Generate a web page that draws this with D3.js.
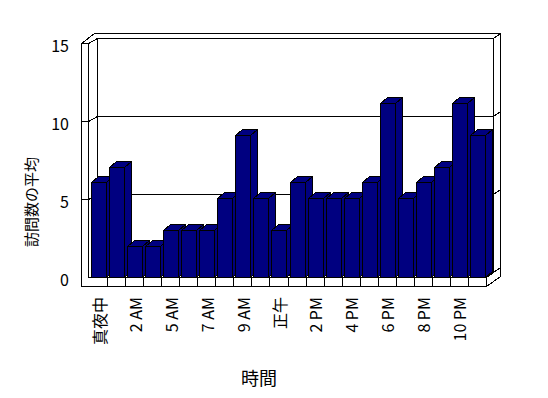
<!DOCTYPE html>
<html>
<head>
<meta charset="utf-8">
<script src="https://cdn.jsdelivr.net/npm/d3@7"></script>
<style>
  html, body { margin: 0; padding: 0; background: #fff; }
  svg { display: block; }
  text { font-family: "Noto Sans CJK JP", "Noto Sans", sans-serif; fill: #000; }
</style>
</head>
<body>
<script>
// ---- data ----
const categories = ["真夜中","1 AM","2 AM","3 AM","5 AM","6 AM","7 AM","8 AM","9 AM","10 AM","正午",
  "1 PM","2 PM","3 PM","4 PM","5 PM","6 PM","7 PM","8 PM","9 PM","10 PM","11 PM"];
const values = [6,7,2,2,3,3,3,5,9,5,3,6,5,5,5,6,11,5,6,7,11,9];
const yTicks = [0,5,10,15];
const gridValues = [5,10];
const xTitle = "時間";
const yTitle = "訪問数の平均";

// ---- layout ----
const W = 548, H = 398;
const px = v => Math.round(v - 0.5) + 0.5;

const svg = d3.select("body").append("svg").attr("width", W).attr("height", H);
svg.append("rect").attr("width", W).attr("height", H).attr("fill", "#fff");

const xCat = d3.scaleBand().domain(categories).range([89.5, 486.5]).padding(0);
const yAxis = d3.scaleLinear().domain([0, 15]).range([277.5, 43.5]);
const yBar = d3.scaleLinear().domain([0, 15]).range([278.3, 278.3 - 15.9 * 15]);

const L0 = 81.5, L1 = 88.5, B0 = 97.5, B1 = 493.5, O = 500.5;
const yFront = v => px(yAxis(v));
const dBackY = -5, tY = -5;
const floorTop = 277.5, floorBot = 286.5;
const barDX = 7, barDY = -6;

const g = svg.append("g").attr("fill", "none").attr("stroke", "#000").attr("stroke-width", 1)
  .attr("shape-rendering", "crispEdges");

const line = d3.line();
function path(pts) { g.append("path").attr("d", line(pts)); }

// outer contour
path([[L0, floorBot], [L0, yFront(15)], [94.5, 33.5], [O, 33.5], [O, 276.5], [486.5, floorBot], [L0, floorBot]]);
// left wall inner face edge
path([[L1, yFront(15)], [L1, floorTop]]);
path([[L0, yFront(15)], [L1, yFront(15)], [B0, yFront(15) + dBackY], [B1, yFront(15) + dBackY], [O, yFront(15) + dBackY + tY]]);
// back wall left edge & right edge
path([[B0, yFront(15) + dBackY], [B0, floorTop + dBackY]]);
path([[B1, yFront(15) + dBackY], [B1, floorTop + dBackY]]);
// floor back edge and right top edge
path([[B0, floorTop + dBackY], [B1, floorTop + dBackY]]);
path([[486.5, floorTop], [B1, floorTop + dBackY], [O, floorTop + dBackY + tY]]);
// floor front face
path([[L1, floorTop], [486.5, floorTop], [486.5, floorBot]]);
categories.slice(1).forEach(c => {
  const x = px(xCat(c));
  path([[x, floorTop], [x, floorBot]]);
});

// gridlines
gridValues.forEach(v => {
  const yf = yFront(v);
  path([[L0, yf], [L1, yf], [B0, yf + dBackY], [B1, yf + dBackY], [O, yf + dBackY + tY]]);
});

// bars
const bars = svg.append("g").attr("fill", "#000080").attr("stroke", "#000").attr("stroke-width", 1)
  .attr("stroke-linejoin", "miter").attr("shape-rendering", "crispEdges");
values.forEach((v, i) => {
  const c = categories[i];
  const x0 = px(xCat(c) + 2);
  const x1 = x0 + 15;
  const y0 = floorTop;
  const y1 = px(yBar(v));
  const gb = bars.append("g");
  gb.append("path").attr("d", line([[x1, y0], [x1 + barDX, y0 + barDY], [x1 + barDX, y1 + barDY], [x1, y1]]) + "Z");
  gb.append("path").attr("d", line([[x0, y1], [x0 + barDX, y1 + barDY], [x1 + barDX, y1 + barDY], [x1, y1]]) + "Z");
  gb.append("path").attr("d", line([[x0, y0], [x0, y1], [x1, y1], [x1, y0]]) + "Z");
});

// y tick labels
svg.append("g").selectAll("text").data(yTicks).join("text")
  .attr("x", 69).attr("y", d => yAxis(d) + 1)
  .attr("text-anchor", "end").attr("dominant-baseline", "central")
  .attr("font-size", 16).text(d => d);

// x tick labels (every other category)
svg.append("g").selectAll("text").data(categories.filter((c, i) => i % 2 === 0)).join("text")
  .attr("transform", d => `translate(${xCat(d) + xCat.bandwidth() / 2},297) rotate(-90)`)
  .attr("text-anchor", "end").attr("dominant-baseline", "central")
  .attr("font-size", 16).text(d => d);

// axis titles
svg.append("text").attr("transform", "translate(30,202) rotate(-90)")
  .attr("text-anchor", "middle").attr("dominant-baseline", "central")
  .attr("font-size", 15).text(yTitle);
svg.append("text").attr("x", 259).attr("y", 377)
  .attr("text-anchor", "middle").attr("dominant-baseline", "central")
  .attr("font-size", 18).text(xTitle);
</script>
</body>
</html>
